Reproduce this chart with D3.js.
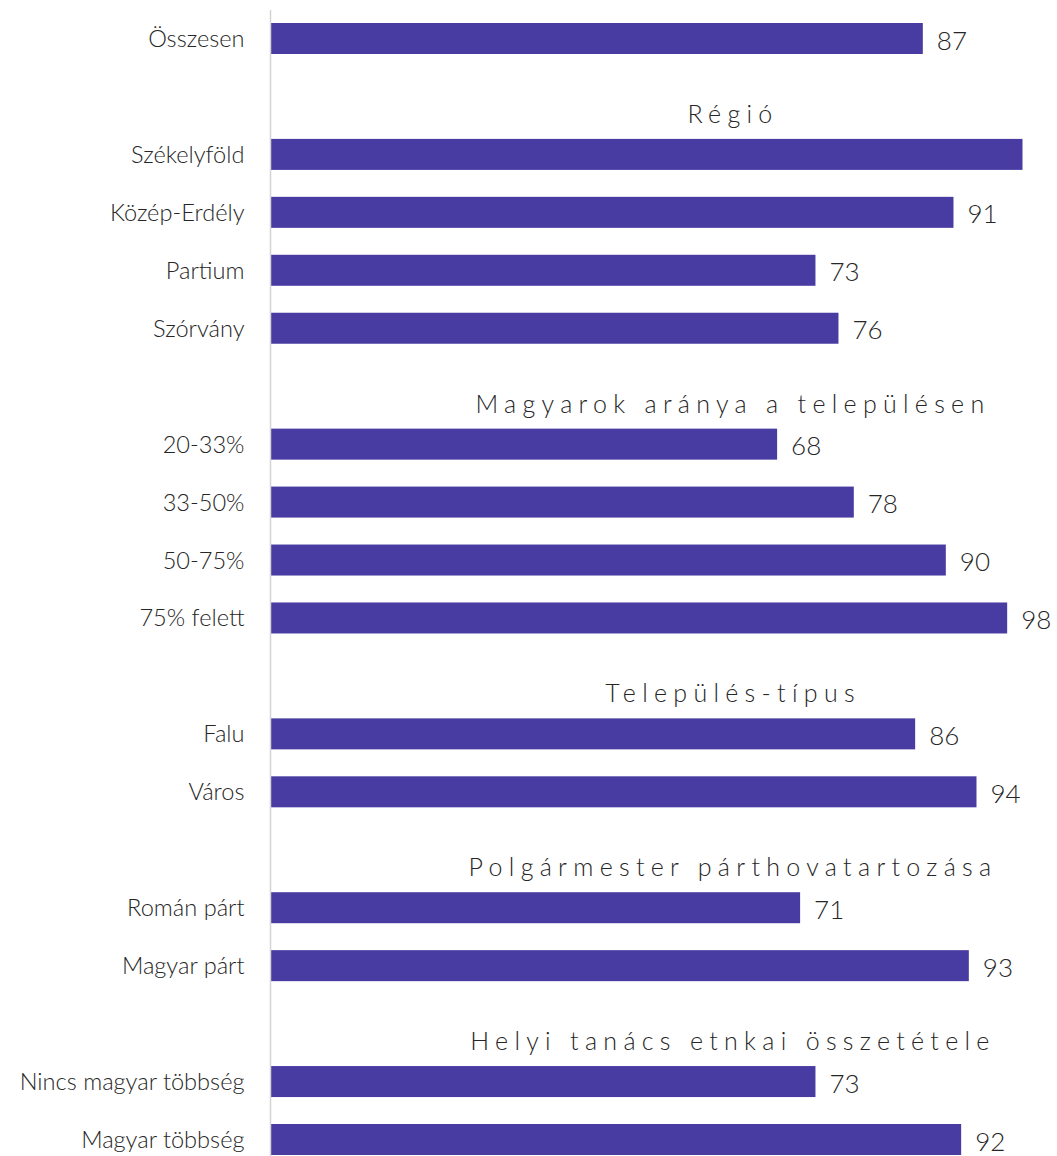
<!DOCTYPE html>
<html>
<head>
<meta charset="utf-8">
<script src="https://cdn.jsdelivr.net/npm/d3@7"></script>
<style>
  html, body { margin: 0; padding: 0; background: #ffffff; }
  svg { display: block; }
  text { font-family: Lato, "Open Sans", sans-serif; fill: #262626; }
</style>
</head>
<body>
<svg id="chart" width="1057" height="1156"></svg>
<script>
// Group headings (the first group has none)
const groupTitles = [
  "",
  "Régió",
  "Magyarok aránya a településen",
  "Település-típus",
  "Polgármester párthovatartozása",
  "Helyi tanács etnkai összetétele"
];

// Categories per group
const groupCategories = [
  ["Összesen"],
  ["Székelyföld", "Közép-Erdély", "Partium", "Szórvány"],
  ["20-33%", "33-50%", "50-75%", "75% felett"],
  ["Falu", "Város"],
  ["Román párt", "Magyar párt"],
  ["Nincs magyar többség", "Magyar többség"]
];

// Values per group (percent)
const groupValues = [
  [87],
  [100, 91, 73, 76],
  [68, 78, 90, 98],
  [86, 94],
  [71, 93],
  [73, 92]
];

// Value axis domain
const axisDomain = [2, 100];

const W = 1057, H = 1156;
const svg = d3.select("#chart");

// Flatten into rows: a heading row before every titled group, then its bars
const rows = [];
groupTitles.forEach((title, gi) => {
  if (title) rows.push({ id: "h" + gi, type: "heading", label: title });
  groupCategories[gi].forEach((c, ci) => {
    rows.push({ id: "b" + gi + "_" + ci, type: "bar", label: c, value: groupValues[gi][ci] });
  });
});

const y = d3.scalePoint()
  .domain(rows.map(r => r.id))
  .range([38.5, 1139.5]);

const x = d3.scaleLinear()
  .domain(axisDomain)
  .range([271, 1022.5]);

const barH = 31;
const bars = rows.filter(r => r.type === "bar");
const heads = rows.filter(r => r.type === "heading");

// Bars
svg.append("g")
  .selectAll("rect")
  .data(bars)
  .join("rect")
  .attr("x", x(axisDomain[0]))
  .attr("y", d => y(d.id) - barH / 2)
  .attr("width", d => x(d.value) - x(axisDomain[0]))
  .attr("height", barH)
  .attr("fill", "#483ba1");

// Category axis line
svg.append("line")
  .attr("x1", 270.5).attr("x2", 270.5)
  .attr("y1", 10).attr("y2", H)
  .attr("stroke", "#d4d4d4")
  .attr("stroke-width", 1.5);

// Category labels
svg.append("g")
  .selectAll("text")
  .data(bars)
  .join("text")
  .attr("x", 244.5)
  .attr("y", d => y(d.id) + 8.5)
  .attr("text-anchor", "end")
  .style("font-size", "23.6px")
  .style("font-weight", 300)
  .text(d => d.label);

// Value labels; labels that would run past the chart edge are left out
const vl = svg.append("g")
  .selectAll("text")
  .data(bars)
  .join("text")
  .attr("x", d => x(d.value) + 14)
  .attr("y", d => y(d.id) + 11)
  .style("font-size", "26px")
  .style("font-weight", 300)
  .text(d => d3.format("d")(d.value));
vl.each(function(d) {
  const t = d3.select(this);
  if (+t.attr("x") + this.getComputedTextLength() > W) t.remove();
});

// Group headings
svg.append("g")
  .selectAll("text")
  .data(heads)
  .join("text")
  .attr("x", 733)
  .attr("y", d => y(d.id) + 26.5)
  .attr("text-anchor", "middle")
  .style("font-size", "25px")
  .style("font-weight", 300)
  .style("letter-spacing", "6.3px")
  .text(d => d.label);
</script>
</body>
</html>
